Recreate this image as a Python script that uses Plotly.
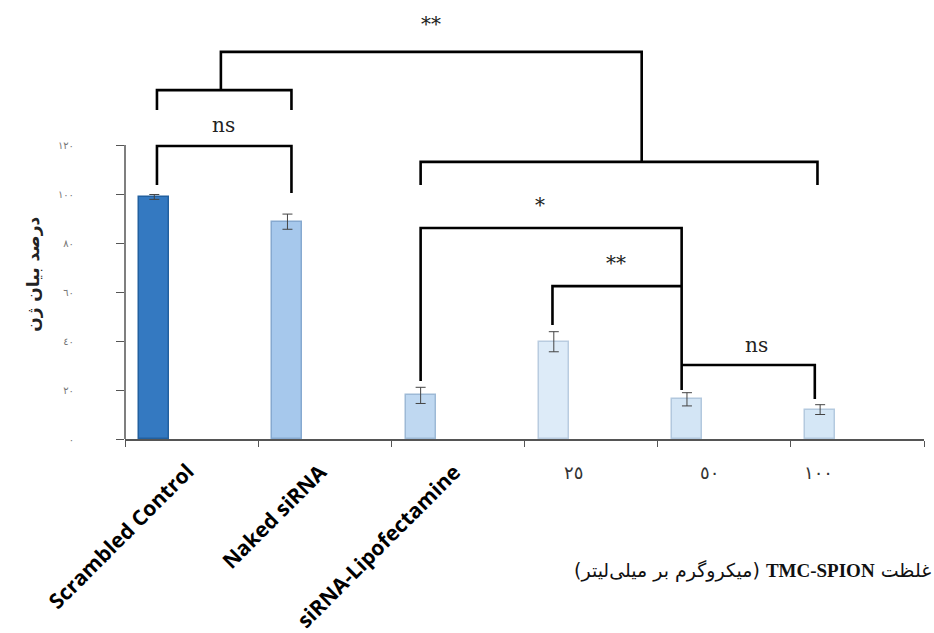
import plotly.graph_objects as go

# ---- data ----
categories = ["Scrambled Control", "Naked siRNA", "siRNA-Lipofectamine", "٢٥", "٥٠", "١٠٠"]
values = [98.8, 88.7, 17.8, 39.7, 16.2, 12.0]
errors = [1.0, 3.1, 3.3, 4.1, 2.7, 2.0]
bar_colors = ["#3479C1", "#A6C8EC", "#BFD8F1", "#DDEBF8", "#D3E5F5", "#D5E7F6"]
bar_lines = ["#22609F", "#86A9D0", "#9DB9D6", "#B9CCE0", "#B2C8DE", "#B4CADF"]
y_tickvals = [0, 20, 40, 60, 80, 100, 120]
y_ticktext = ["٠", "٢٠", "٤٠", "٦٠", "٨٠", "١٠٠", "١٢٠"]
y_title = "درصد بیان ژن"
x_title = "(میکروگرم بر میلی‌لیتر) <b><span style=\"font-family:Liberation Serif\">TMC-SPION</span></b> غلظت"

# significance brackets: (x_left, x_right, y_bar, y_left_end, y_right_end)
brackets = [
    (0.24, 1.25, 119.6, 103.7, 100.4),   # ns lower
    (0.24, 1.25, 142.4, 134.3, 134.3),   # ns upper
    (2.22, 5.20, 113.1, 103.7, 103.7),   # lower big
    (0.72, 3.88, 158.0, 142.4, 113.1),   # top **
    (2.22, 4.18, 86.1, 23.7, 20.0),      # *
    (3.21, 4.18, 62.4, 46.5, 62.4),      # **
    (4.18, 5.18, 30.2, 30.2, 16.3),      # ns
]
sig_labels = [("**", 2.30, 169.5), ("ns", 0.74, 128.2), ("*", 3.12, 95.5),
              ("**", 3.69, 71.8), ("ns", 4.74, 38.4)]

offset = 0.22
xpos = [i + offset for i in range(len(categories))]

fig = go.Figure()
fig.add_trace(go.Bar(
    x=xpos, y=values, width=0.225,
    marker=dict(color=bar_colors, line=dict(color=bar_lines, width=1.5)),
    error_y=dict(type="data", array=errors, visible=True, color="#444444",
                 thickness=1, width=5),
    hoverinfo="y",
))

shapes = []
# y axis line 0..120
shapes.append(dict(type="line", xref="paper", yref="y", x0=0, x1=0, y0=0, y1=120,
                   line=dict(color="#555555", width=1.5)))
for xl, xr, yb, yl, yr in brackets:
    path = f"M {xl} {yl} L {xl} {yb} L {xr} {yb} L {xr} {yr}"
    shapes.append(dict(type="path", xref="x", yref="y", path=path,
                       line=dict(color="black", width=2.6)))

annotations = []
for txt, x, y in sig_labels:
    annotations.append(dict(text=txt, x=x, y=y, xref="x", yref="y", showarrow=False,
                            font=dict(family="DejaVu Serif", size=20, color="#222222")))

# rotated category labels
for i in range(3):
    annotations.append(dict(text=f"<b>{categories[i]}</b>", x=i + 0.58, y=0, xref="x", yref="paper",
                            xanchor="right", yanchor="top", yshift=-16, textangle=-45,
                            showarrow=False,
                            font=dict(family="Open Sans", size=21, color="black")))
num_x = [3.37, 4.39, 5.21]
for j, i in enumerate(range(3, 6)):
    annotations.append(dict(text=categories[i], x=num_x[j], y=0, xref="x", yref="paper",
                            yshift=-46, showarrow=False,
                            font=dict(family="DejaVu Sans", size=18, color="#333333")))

annotations.append(dict(text=f"<b>{y_title}</b>", x=0, y=67, xref="paper", yref="y", xshift=-104,
                        textangle=-90, showarrow=False,
                        font=dict(family="DejaVu Sans", size=17, color="#222222")))
annotations.append(dict(text=x_title, x=1.011, y=0, xref="paper", yref="paper",
                        xanchor="right", yshift=-145, showarrow=False,
                        font=dict(family="DejaVu Sans", size=19, color="#111111")))

fig.update_layout(
    width=934, height=633,
    margin=dict(l=125, r=10, t=10, b=194),
    paper_bgcolor="white", plot_bgcolor="white",
    showlegend=False,
    shapes=shapes, annotations=annotations,
    bargap=0,
)
fig.update_xaxes(range=[0, 6], tickvals=list(range(7)), showticklabels=False,
                 ticks="outside", ticklen=6, tickcolor="#555555", tickwidth=1,
                 showline=True, linecolor="#555555", linewidth=1.5,
                 showgrid=False, zeroline=False)
fig.update_yaxes(range=[0, 175.1], tickvals=y_tickvals, ticktext=y_ticktext,
                 ticks="outside", ticklen=8, tickcolor="#555555", tickwidth=1,
                 showline=False, showgrid=False, zeroline=False,
                 ticklabelstandoff=40,
                 tickfont=dict(family="DejaVu Sans", size=10, color="#777777"))

fig.write_html("out.html", config={"displayModeBar": False},
               post_script="document.body.style.margin='0';document.body.style.overflow='hidden';")
